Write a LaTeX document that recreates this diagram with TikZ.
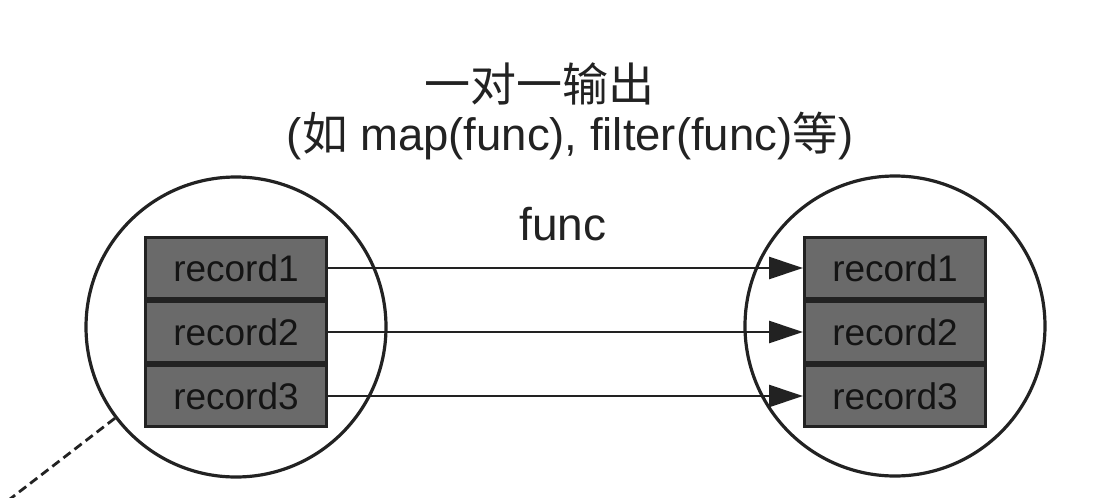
\documentclass[tikz,border=0pt]{standalone}
\usepackage{fontspec}
\setmainfont{Liberation Sans}
\newfontfamily\cjk{Noto Sans CJK SC}
\usetikzlibrary{arrows.meta}
\definecolor{ink}{HTML}{222222}
\definecolor{boxfill}{HTML}{6A6A6A}
\tikzset{
  x=1pt,y=-1pt,
  ring/.style={circle,draw=ink,line width=3.2pt,minimum size=300pt,inner sep=0pt},
  rec/.style={rectangle,draw=ink,line width=3pt,fill=boxfill,minimum width=181pt,minimum height=61pt,inner sep=0pt,
    font=\fontsize{37}{40}\selectfont,text=black!92},
  flow/.style={draw=ink,line width=2.6pt,-{Triangle[length=34pt,width=22pt]}},
  lbl/.style={text=ink,inner sep=0pt}
}
\begin{document}
\begin{tikzpicture}
\useasboundingbox (0,0) rectangle (1120,498);
\node[ring] (lc) at (236,327) {};
\node[ring] (rc) at (895,326) {};
\node[rec] (l1) at (236,268) {record1};
\node[rec,anchor=north] (l2) at (l1.south) {record2};
\node[rec,anchor=north] (l3) at (l2.south) {record3};
\node[rec] (r1) at (895,268) {record1};
\node[rec,anchor=north] (r2) at (r1.south) {record2};
\node[rec,anchor=north] (r3) at (r2.south) {record3};
\draw[flow] (l1.east) -- (r1.west);
\draw[flow] (l2.east) -- (r2.west);
\draw[flow] (l3.east) -- (r3.west);
\node[lbl,font=\fontsize{46}{50}\selectfont] (fn) at (563,224) {func};
\node[lbl,font=\cjk\fontsize{46}{50}\selectfont] (t1) at (539,84) {一对一输出};
\node[lbl,font=\fontsize{45.5}{50}\selectfont] (t2) at (570,136) {({\cjk 如} map(func), filter(func){\cjk 等})};
\coordinate (dend) at (10,499);
\draw[ink,line width=2.8pt,dash pattern=on 9pt off 5pt] (lc.217) -- (dend);
\end{tikzpicture}
\end{document}
